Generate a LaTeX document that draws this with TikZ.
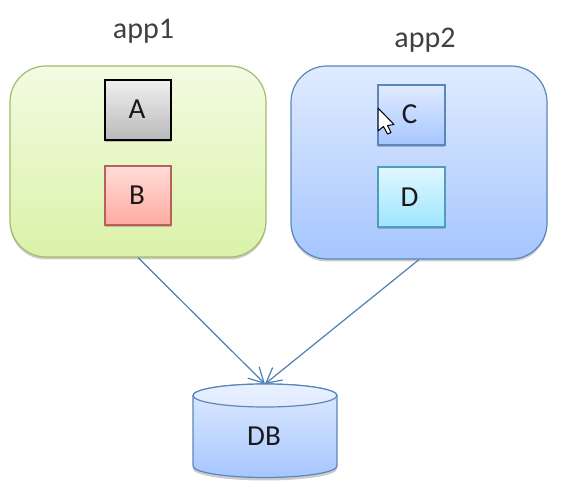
\documentclass[tikz,border=0pt]{standalone}
\usepackage{fontspec}
\setmainfont{Carlito}
\usetikzlibrary{shadows,arrows.meta,positioning}
\definecolor{linkblue}{HTML}{4F7FB5}
\definecolor{greenedge}{HTML}{A3BC6A}
\definecolor{blueedge}{HTML}{5B86BA}
\definecolor{tealedge}{HTML}{4F9DB8}
\definecolor{rededge}{HTML}{B9605A}
\definecolor{greentop}{HTML}{F3FBE2}
\definecolor{greenbot}{HTML}{DAF2A8}
\definecolor{bluetop}{HTML}{E0EBFF}
\definecolor{bluebot}{HTML}{A6C6FF}
\definecolor{tealtop}{HTML}{E2F7FF}
\definecolor{tealbot}{HTML}{9EE5FF}
\definecolor{graytop}{HTML}{F0F0F0}
\definecolor{graybot}{HTML}{B9B9B9}
\definecolor{redtop}{HTML}{FFDDD8}
\definecolor{redbot}{HTML}{FFAAA0}
\tikzset{
  softshadow/.style={drop shadow={shadow xshift=0pt,shadow yshift=-2.5pt,fill=black,opacity=0.2}},
  appbox/.style={rectangle,rounded corners=36pt,minimum width=256pt,line width=1.2pt,softshadow},
  compbox/.style={rectangle,minimum width=66pt,line width=1.3pt,font=\fontsize{29}{29}\selectfont,text=black!90,softshadow},
  applabel/.style={font=\fontsize{30}{30}\selectfont,text=black!75},
  link/.style={draw=linkblue,line width=1.2pt,-{Straight Barb[length=15pt,width=16pt,line width=1.2pt]}},
}
\begin{document}
\begin{tikzpicture}[x=1pt,y=-1pt]
\useasboundingbox (0,0) rectangle (579,494);
\fill[white] (0,0) rectangle (579,494);
\node[applabel] (l1) at (143.5,31.5) {app1};
\node[applabel] (l2) at (425,40.5) {app2};
\node[appbox,minimum height=191pt,draw=greenedge,top color=greentop,bottom color=greenbot] (app1) at (138,161.5) {};
\node[appbox,minimum height=193pt,draw=blueedge,top color=bluetop,bottom color=bluebot] (app2) at (419,162.5) {};
\node[compbox,minimum height=60pt,draw=black,top color=graytop,bottom color=graybot,text depth=0pt,inner sep=0pt] (A) at (138,110) {\raisebox{2pt}{A}\hspace*{2pt}};
\node[compbox,minimum height=59pt,draw=rededge,top color=redtop,bottom color=redbot] (B) at (138,195.5) {B\hspace*{2pt}};
\node[compbox,minimum height=60pt,minimum width=67pt,draw=blueedge,top color=bluetop,bottom color=bluebot] (C) at (411.5,115) {\hspace*{-4pt}\raisebox{2pt}{C}};
\node[compbox,minimum height=60pt,minimum width=67pt,draw=tealedge,top color=tealtop,bottom color=tealbot] (D) at (411.5,197) {\hspace*{-4pt}D};
% cylinder
\coordinate (dbtop) at (265,384);
\fill[black,opacity=0.2] (193,420) -- (193,469) arc[x radius=72,y radius=11.5,start angle=180,end angle=0] -- (337,420) -- cycle;
\draw[blueedge,line width=1.2pt,top color=bluetop,bottom color=bluebot]
  (193,395.5) -- (193,466) arc[x radius=72,y radius=11.5,start angle=180,end angle=0] -- (337,395.5) arc[x radius=72,y radius=11.5,start angle=360,end angle=180] -- cycle;
\draw[blueedge,line width=1.2pt,top color=bluetop!70!white,bottom color=bluetop]
  (265,395.5) ellipse[x radius=72,y radius=11.5];
\node[font=\fontsize{29}{29}\selectfont,text=black!90] (db) at (264,436) {DB};
\draw[link] (app1.south) -- (dbtop);
\draw[link] (app2.south) -- (dbtop);
% mouse pointer
\draw[black,fill=white,line width=1pt,line join=round]
  (378,108) -- (378,131) -- (383.5,126.5) -- (387.5,134) -- (391,132.5) -- (387.5,125.5) -- (394,124.5) -- cycle;
\end{tikzpicture}
\end{document}
